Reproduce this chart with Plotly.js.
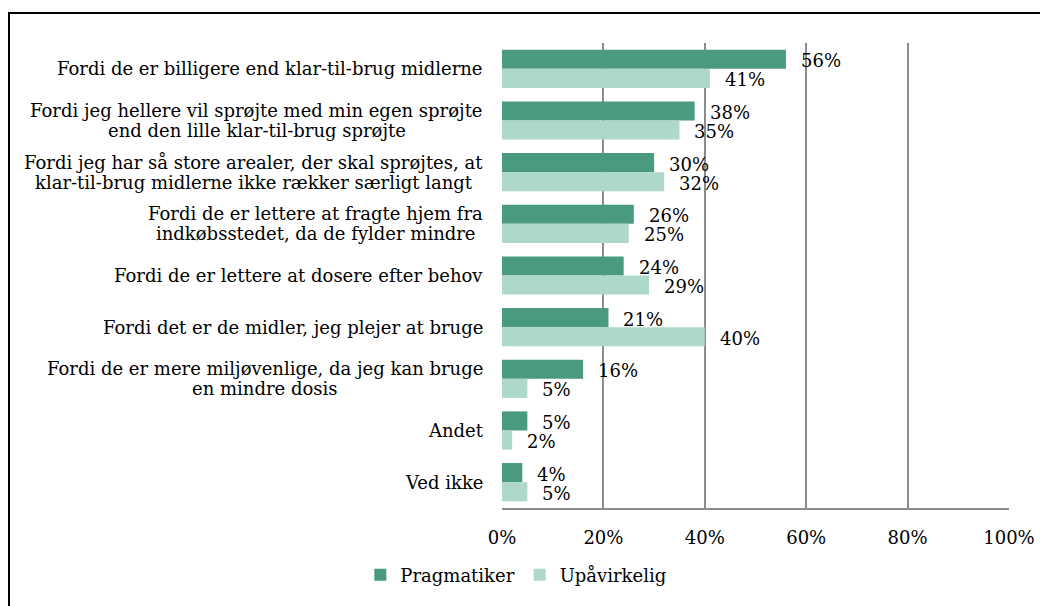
<!DOCTYPE html>
<html>
<head>
<meta charset="utf-8">
<script src="https://cdn.plot.ly/plotly-3.0.1.min.js"></script>
<style>
  html, body { margin: 0; padding: 0; background: #fff; }
  #wrap { position: relative; width: 1040px; height: 606px; overflow: hidden; }
  #chart { position: absolute; left: 0; top: 0; width: 1040px; height: 606px; }
  #frame { position: absolute; left: 8px; top: 12px; width: 1100px; height: 700px;
           border-left: 2px solid #000; border-top: 2px solid #000; pointer-events: none; }
</style>
</head>
<body>
<div id="wrap">
  <div id="chart"></div>
  <div id="frame"></div>
</div>
<script>
const categories = [
  "Fordi de er billigere end klar-til-brug midlerne",
  "Fordi jeg hellere vil sprøjte med min egen sprøjte<br>end den lille klar-til-brug sprøjte",
  "Fordi jeg har så store arealer, der skal sprøjtes, at<br>klar-til-brug midlerne ikke rækker særligt langt",
  "Fordi de er lettere at fragte hjem fra<br>indkøbsstedet, da de fylder mindre",
  "Fordi de er lettere at dosere efter behov",
  "Fordi det er de midler, jeg plejer at bruge",
  "Fordi de er mere miljøvenlige, da jeg kan bruge<br>en mindre dosis",
  "Andet",
  "Ved ikke"
];
const seriesNames = ["Pragmatiker", "Upåvirkelig"];
const pragmatiker = [56, 38, 30, 26, 24, 21, 16, 5, 4];
const upaavirkelig = [41, 35, 32, 25, 29, 40, 5, 2, 5];
const xTickVals = [0, 20, 40, 60, 80, 100];
const xTickText = ["0%", "20%", "40%", "60%", "80%", "100%"];

const FONT = "DejaVu Serif, Georgia, serif";
const FS = 18;
const LINE_GAP = 20;
const colors = ["#4a9a80", "#aed8ca"];

const traces = [
  { type: "bar", orientation: "h", name: seriesNames[0], x: pragmatiker, y: categories,
    marker: { color: colors[0] }, hoverinfo: "skip" },
  { type: "bar", orientation: "h", name: seriesNames[1], x: upaavirkelig, y: categories,
    marker: { color: colors[1] }, hoverinfo: "skip" }
];

// measure text to center multi-line category labels (Excel style) with tight line spacing
const ctx = document.createElement("canvas").getContext("2d");
ctx.font = FS + "px 'DejaVu Serif'";

const annotations = [];
categories.forEach((c, i) => {
  const lines = c.split("<br>");
  const w = Math.max(...lines.map(l => ctx.measureText(l).width));
  const n = lines.length;
  lines.forEach((l, k) => {
    annotations.push({ x: 0, y: c, xref: "paper", yref: "y", text: l, showarrow: false,
      xanchor: "center", yanchor: "middle", xshift: -19 - w / 2,
      yshift: ((n - 1) / 2 - k) * LINE_GAP,
      font: { family: FONT, size: FS, color: "#000" } });
  });
  annotations.push({ x: pragmatiker[i], y: c, xref: "x", yref: "y", text: pragmatiker[i] + "%",
    showarrow: false, xanchor: "left", yanchor: "middle", xshift: 13, yshift: 8,
    font: { family: FONT, size: FS, color: "#000" } });
  annotations.push({ x: upaavirkelig[i], y: c, xref: "x", yref: "y", text: upaavirkelig[i] + "%",
    showarrow: false, xanchor: "left", yanchor: "middle", xshift: 13, yshift: -11,
    font: { family: FONT, size: FS, color: "#000" } });
});

const layout = {
  width: 1040, height: 606,
  margin: { l: 502, r: 31, t: 43, b: 98, pad: 0 },
  paper_bgcolor: "#fff", plot_bgcolor: "#fff",
  barmode: "group", bargap: 0.26, bargroupgap: 0,
  font: { family: FONT, size: FS, color: "#000" },
  showlegend: true,
  legend: { orientation: "h", xref: "container", yref: "container", x: 0.496, y: 0.051,
            xanchor: "center", yanchor: "middle", font: { family: FONT, size: FS, color: "#000" },
            itemwidth: 30, traceorder: "normal" },
  xaxis: { range: [0, 100], tickvals: xTickVals, ticktext: xTickText, showgrid: true,
           gridcolor: "#8c8c8c", gridwidth: 2, zeroline: false, showline: true,
           linecolor: "#8c8c8c", linewidth: 2, ticks: "", ticklabelstandoff: 12,
           tickfont: { family: FONT, size: FS, color: "#000" }, fixedrange: true },
  yaxis: { type: "category", autorange: "reversed", showticklabels: false, showgrid: false,
           zeroline: false, showline: false, ticks: "", fixedrange: true },
  annotations: annotations
};

Plotly.newPlot("chart", traces, layout, { displayModeBar: false, staticPlot: true });
</script>
</body>
</html>
